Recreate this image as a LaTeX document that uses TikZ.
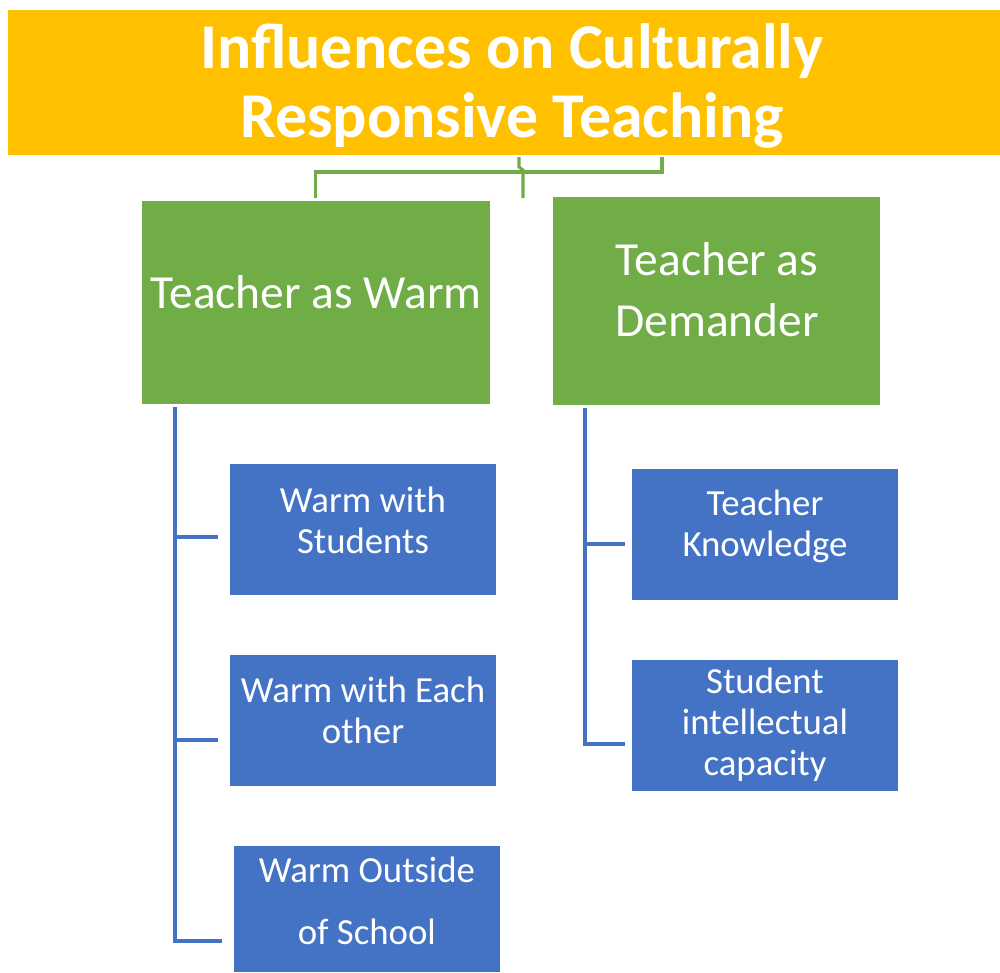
\documentclass[tikz,border=0pt]{standalone}
\usepackage{fontspec}
\setmainfont{Carlito}
\definecolor{banner}{HTML}{FFC000}
\definecolor{leafgreen}{HTML}{70AD47}
\definecolor{steelblue}{HTML}{4472C4}
\begin{document}
\begin{tikzpicture}[x=0.75pt,y=-0.75pt,
  box/.style={draw=none,inner sep=0pt,anchor=north west},
  txt/.style={text=white,align=center,inner sep=0pt},
  greenline/.style={draw=leafgreen,line width=2.3pt},
  blueline/.style={draw=steelblue,line width=2.4pt}]
\useasboundingbox[fill=white] (0,0) rectangle (1000,972);

% title banner
\fill[banner] (8,10) rectangle (1000,155);
\node[txt,font=\fontsize{47.9}{51.75}\selectfont\bfseries] (title) at (512,86) {Influences on Culturally\\Responsive Teaching};
\coordinate (tb) at (519,157);
\coordinate (tr) at (662,157);

% category boxes
\node[box,fill=leafgreen,minimum width=348*0.75pt,minimum height=203*0.75pt] (warm) at (142,201) {};
\node[box,fill=leafgreen,minimum width=327*0.75pt,minimum height=208*0.75pt] (demand) at (553,197) {};
\node[txt,font=\fontsize{35.6}{45.75}\selectfont] (warmt) at (316,292) {Teacher as Warm};
\node[txt,font=\fontsize{35.6}{45.75}\selectfont] (demandt) at (717,290) {Teacher as\\Demander};

% green connectors
\draw[greenline] (tb) -- ++(0,10) -- (523,170) -- (523,198);
\draw[greenline] (warm.north) ++(-1,-3) |- (662,172) -- (tr);

% leaf boxes
\tikzset{leaf/.style={box,fill=steelblue,minimum width=266*0.75pt,minimum height=131*0.75pt},
         leaft/.style={txt,font=\fontsize{27.6}{30.75}\selectfont}}
\node[leaf] (ws) at (230,464) {};
\node[leaf] (we) at (230,655) {};
\node[leaf,minimum height=126*0.75pt] (wo) at (234,846) {};
\node[leaf] (tk) at (632,469) {};
\node[leaf] (sc) at (632,660) {};
\node[leaft] (wst) at (363,520) {Warm with\\Students};
\node[leaft] (wet) at (363,710) {Warm with Each\\other};
\node[leaft,font=\fontsize{27.6}{46.5}\selectfont] (wot) at (367,901) {Warm Outside\\of School};
\node[leaft] (tkt) at (765,526) {Teacher\\Knowledge};
\node[leaft] (sct) at (765,725) {Student\\intellectual\\capacity};

% blue connectors
\coordinate (lw) at (175,407);
\coordinate (ld) at (585,408);
\draw[blueline] (lw) |- ([xshift=-12*0.75pt]wo.west |- 0,941);
\draw[blueline] (lw |- 0,537) -- ([xshift=-12*0.75pt]ws.west |- 0,537);
\draw[blueline] (lw |- 0,740) -- ([xshift=-12*0.75pt]we.west |- 0,740);
\draw[blueline] (ld) |- ([xshift=-7*0.75pt]sc.west |- 0,744);
\draw[blueline] (ld |- 0,544) -- ([xshift=-7*0.75pt]tk.west |- 0,544);
\end{tikzpicture}
\end{document}
